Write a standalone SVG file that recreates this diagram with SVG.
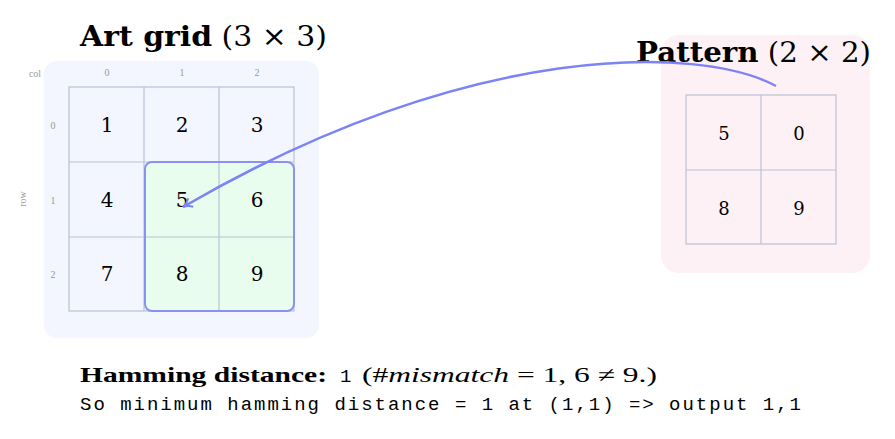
<svg xmlns="http://www.w3.org/2000/svg" width="895" height="439" viewBox="0 0 895 439">
<style>
.num{font-family:"DejaVu Serif","Liberation Serif",serif;font-size:20px;fill:#000;text-anchor:middle;dominant-baseline:central}
.pnum{font-family:"DejaVu Serif","Liberation Serif",serif;font-size:18px;fill:#000;text-anchor:middle;dominant-baseline:central}
.lab{font-family:"Liberation Serif",serif;font-size:10px;fill:#999;text-anchor:middle;dominant-baseline:central}
.cell{fill:none;stroke:#b9c1d6;stroke-width:1.2}
.title{font-family:"DejaVu Serif","Liberation Serif",serif;font-size:27px;fill:#000}
.txt{font-family:"Liberation Serif",serif;font-size:21px;fill:#000}
.mono{font-family:"Liberation Mono",monospace;font-size:19px;fill:#000}
</style>
<defs>
<marker id="ah" viewBox="0 0 12 12" refX="10" refY="6" markerWidth="12" markerHeight="12" markerUnits="userSpaceOnUse" orient="auto">
<path d="M1,1 Q5,5 10,6 Q5,7 1,11" fill="none" stroke="#7b83f7" stroke-width="2"/>
</marker>
</defs>
<g id="art-grid">
<rect x="44" y="61" width="275" height="277" rx="13" fill="#f3f6fe"/>
<rect x="145" y="162" width="149" height="149" fill="#e9fdee"/>
<g class="cell">
<rect x="69" y="87" width="225" height="224"/>
<line x1="144" y1="87" x2="144" y2="311"/>
<line x1="219" y1="87" x2="219" y2="311"/>
<line x1="69" y1="162" x2="294" y2="162"/>
<line x1="69" y1="237" x2="294" y2="237"/>
</g>
<rect x="145" y="162" width="149" height="149" rx="7" fill="none" stroke="#8a92ef" stroke-width="2"/>
<text class="title" x="80" y="46" textLength="247" lengthAdjust="spacingAndGlyphs"><tspan font-weight="bold">Art grid</tspan> (3 × 3)</text>
<text class="lab" x="35" y="73">col</text>
<text class="lab" x="107" y="72">0</text>
<text class="lab" x="182" y="72">1</text>
<text class="lab" x="257" y="72">2</text>
<text class="lab" x="53" y="125">0</text>
<text class="lab" x="53" y="200">1</text>
<text class="lab" x="53" y="274">2</text>
<text class="lab" transform="translate(22,199) rotate(-90)">row</text>
<text class="num" x="107" y="125">1</text>
<text class="num" x="182" y="125">2</text>
<text class="num" x="257" y="125">3</text>
<text class="num" x="107" y="200">4</text>
<text class="num" x="182" y="200">5</text>
<text class="num" x="257" y="200">6</text>
<text class="num" x="107" y="274">7</text>
<text class="num" x="182" y="274">8</text>
<text class="num" x="257" y="274">9</text>
</g>
<g id="pattern">
<rect x="661" y="35" width="209" height="238" rx="18" fill="#fdf1f6"/>
<g class="cell">
<rect x="686" y="95" width="150" height="149"/>
<line x1="761" y1="95" x2="761" y2="244"/>
<line x1="686" y1="170" x2="836" y2="170"/>
</g>
<text class="title" x="636" y="62" textLength="235" lengthAdjust="spacingAndGlyphs"><tspan font-weight="bold">Pattern</tspan> (2 × 2)</text>
<text class="pnum" x="724" y="133">5</text>
<text class="pnum" x="799" y="133">0</text>
<text class="pnum" x="724" y="208">8</text>
<text class="pnum" x="799" y="208">9</text>
</g>
<g id="connectors">
<path d="M776,86 C700,45 470,40 183,207" fill="none" stroke="#7b83f7" stroke-width="2.5" marker-end="url(#ah)"/>
</g>
<g id="summary">
<text class="txt" x="80" y="382" font-weight="bold" textLength="247" lengthAdjust="spacingAndGlyphs">Hamming distance:</text>
<text class="mono" x="340" y="382">1</text>
<text class="txt" x="362" y="382" textLength="295" lengthAdjust="spacingAndGlyphs">(#<tspan font-style="italic">mismatch</tspan> = 1, 6 ≠ 9.)</text>
<text class="mono" x="80" y="410" textLength="721" lengthAdjust="spacing">So minimum hamming distance = 1 at (1,1) =&gt; output 1,1</text>
</g>
</svg>
